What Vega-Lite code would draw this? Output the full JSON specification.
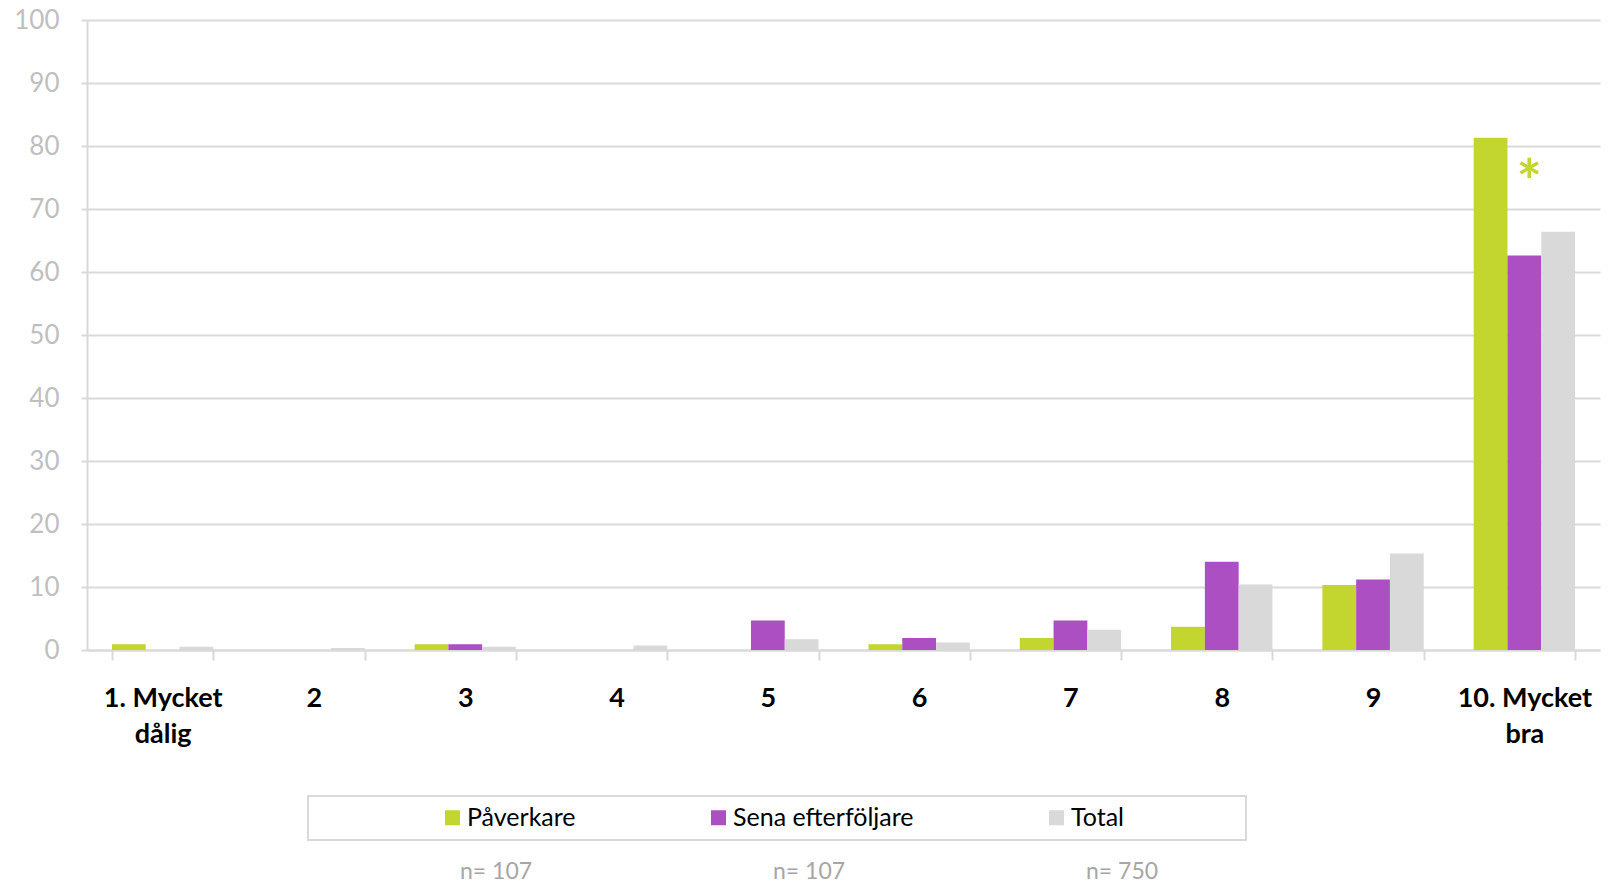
{
  "$schema": "https://vega.github.io/schema/vega-lite/v6.json",
  "width": 1513,
  "height": 630,
  "autosize": {"type": "none"},
  "padding": {"left": 87, "top": 20, "right": 10, "bottom": 233},
  "background": "white",
  "config": {"view": {"stroke": null}, "font": "Lato", "legend": {"strokeWidth": 2}},
  "data": {
    "values": [
      {"cat": "1. Mycket dålig", "series": "Påverkare", "value": 0.9},
      {"cat": "1. Mycket dålig", "series": "Sena efterföljare", "value": 0},
      {"cat": "1. Mycket dålig", "series": "Total", "value": 0.5},
      {"cat": "2", "series": "Påverkare", "value": 0},
      {"cat": "2", "series": "Sena efterföljare", "value": 0},
      {"cat": "2", "series": "Total", "value": 0.3},
      {"cat": "3", "series": "Påverkare", "value": 0.9},
      {"cat": "3", "series": "Sena efterföljare", "value": 0.9},
      {"cat": "3", "series": "Total", "value": 0.5},
      {"cat": "4", "series": "Påverkare", "value": 0},
      {"cat": "4", "series": "Sena efterföljare", "value": 0},
      {"cat": "4", "series": "Total", "value": 0.7},
      {"cat": "5", "series": "Påverkare", "value": 0},
      {"cat": "5", "series": "Sena efterföljare", "value": 4.7},
      {"cat": "5", "series": "Total", "value": 1.7},
      {"cat": "6", "series": "Påverkare", "value": 0.9},
      {"cat": "6", "series": "Sena efterföljare", "value": 1.9},
      {"cat": "6", "series": "Total", "value": 1.2},
      {"cat": "7", "series": "Påverkare", "value": 1.9},
      {"cat": "7", "series": "Sena efterföljare", "value": 4.7},
      {"cat": "7", "series": "Total", "value": 3.2},
      {"cat": "8", "series": "Påverkare", "value": 3.7},
      {"cat": "8", "series": "Sena efterföljare", "value": 14.0},
      {"cat": "8", "series": "Total", "value": 10.4},
      {"cat": "9", "series": "Påverkare", "value": 10.3},
      {"cat": "9", "series": "Sena efterföljare", "value": 11.2},
      {"cat": "9", "series": "Total", "value": 15.3},
      {"cat": "10. Mycket bra", "series": "Påverkare", "value": 81.3},
      {"cat": "10. Mycket bra", "series": "Sena efterföljare", "value": 62.6, "note": "*"},
      {"cat": "10. Mycket bra", "series": "Total", "value": 66.4}
    ]
  },
  "encoding": {
    "x": {
      "field": "cat", "type": "nominal",
      "sort": null,
      "scale": {"paddingInner": 0.33, "paddingOuter": 0.165},
      "axis": {
        "title": null, "labelAngle": 0, "labelFontSize": 27, "labelFontWeight": "bold",
        "labelColor": "#000000", "labelPadding": 25, "tickBand": "extent", "tickSize": 10,
        "tickColor": "#d9d9d9", "tickWidth": 2, "domainColor": "#d9d9d9", "domainWidth": 2,
        "labelLineHeight": 36, "grid": false, "labelLimit": 300,
        "labelExpr": "datum.label == '1. Mycket dålig' ? ['1. Mycket', 'dålig'] : datum.label == '10. Mycket bra' ? ['10. Mycket', 'bra'] : datum.label"
      }
    },
    "xOffset": {"field": "series", "type": "nominal", "sort": null},
    "y": {
      "field": "value", "type": "quantitative",
      "scale": {"domain": [0, 100]},
      "axis": {
        "title": null, "values": [0, 10, 20, 30, 40, 50, 60, 70, 80, 90, 100],
        "grid": true, "gridColor": "#d9d9d9", "gridWidth": 2,
        "domainColor": "#d9d9d9", "domainWidth": 2, "tickColor": "#d9d9d9", "tickSize": 6, "tickWidth": 2,
        "labelColor": "#bfbfbf", "labelFontSize": 26, "labelPadding": 22
      }
    }
  },
  "layer": [
    {
      "mark": {"type": "bar"},
      "encoding": {
        "color": {
          "field": "series", "type": "nominal",
          "scale": {"domain": ["Påverkare", "Sena efterföljare", "Total"], "range": ["#c3d630", "#ab4fc2", "#d9d9d9"]},
          "legend": {
            "orient": "none", "legendX": 221, "legendY": 776, "direction": "horizontal",
            "title": "\u00a0", "titleOrient": "right", "titlePadding": 113, "titleFontSize": 10,
            "symbolType": "square", "symbolSize": 225, "symbolStrokeWidth": 0,
            "labelFontSize": 25, "labelColor": "#000000", "labelOffset": 2, "labelLimit": 600,
            "columnPadding": 7, "padding": 9, "symbolOffset": 123,
            "strokeColor": "#d9d9d9"
          }
        },
        "opacity": {
          "field": "series", "type": "nominal",
          "sort": null,
          "scale": {"type": "ordinal", "range": [1, 1, 1]},
          "legend": {
            "orient": "none", "legendX": 350, "legendY": 840, "direction": "horizontal", "title": null,
            "symbolSize": 1, "symbolOpacity": 0, "symbolFillColor": "transparent", "symbolStrokeColor": "transparent",
            "symbolStrokeWidth": 0, "labelOffset": 0,
            "labelFontSize": 23, "labelColor": "#a6a6a6", "columnPadding": 217, "padding": 0,
            "labelExpr": "datum.label == 'Total' ? 'n= 750' : 'n= 107'"
          }
        }
      }
    },
    {
      "transform": [{"filter": "datum.note"}],
      "mark": {"type": "text", "color": "#c3d630", "fontSize": 60, "fontWeight": "bold", "baseline": "middle", "dx": 5, "dy": -71},
      "encoding": {"text": {"field": "note"}}
    }
  ]
}
